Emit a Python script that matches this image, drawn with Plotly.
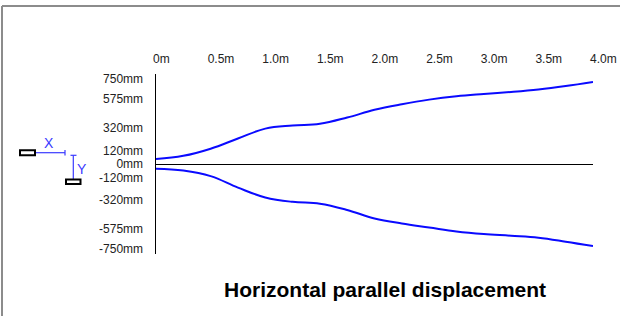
import plotly.graph_objects as go

# ---- data (metres, millimetres) ----
distance_m = [0, 0.25, 0.5, 0.75, 1.0, 1.25, 1.5, 1.75, 2.0, 2.25, 2.5, 2.75, 3.0, 3.25, 3.5, 3.75, 4.0]
upper_mm = [44, 72, 135, 225, 312, 340, 355, 410, 478, 527, 568, 598, 618, 636, 658, 688, 724]
lower_mm = [-41, -58, -107, -208, -295, -334, -350, -405, -480, -525, -560, -595, -618, -633, -650, -685, -724]

x_tickvals = [0, 0.5, 1.0, 1.5, 2.0, 2.5, 3.0, 3.5, 4.0]
x_ticktext = ["0m", "0.5m", "1.0m", "1.5m", "2.0m", "2.5m", "3.0m", "3.5m", "4.0m"]
y_tickvals = [750, 575, 320, 120, 0, -120, -320, -575, -750]
y_ticktext = ["750mm", "575mm", "320mm", "120mm", "0mm", "-120mm", "-320mm", "-575mm", "-750mm"]

title_text = "Horizontal parallel displacement"

W, H = 620, 316
L, R, T, B = 156, 27, 74, 62
PW, PH = W - L - R, H - T - B


def px(x):
    return (x - L) / PW


def py(y):
    return (H - B - y) / PH


BLUE = "#0a0aff"
ICON_BLUE = "#3a3aff"

fig = go.Figure()
for ys in (upper_mm, lower_mm):
    fig.add_trace(go.Scatter(
        x=distance_m, y=ys, mode="lines",
        line=dict(color=BLUE, width=2, shape="spline", smoothing=1.1),
        hoverinfo="skip", showlegend=False,
    ))

shapes = []
# frame lines (left and top)
shapes.append(dict(type="line", xref="paper", yref="paper", x0=px(2), x1=px(620), y0=py(6), y1=py(6),
                   line=dict(color="#8c8c8c", width=2)))
shapes.append(dict(type="line", xref="paper", yref="paper", x0=px(2), x1=px(2), y0=py(6), y1=py(316),
                   line=dict(color="#8c8c8c", width=2)))
# icon: X arrow
shapes.append(dict(type="line", xref="paper", yref="paper", x0=px(35), x1=px(65), y0=py(152.7), y1=py(152.7),
                   line=dict(color=ICON_BLUE, width=1.2)))
shapes.append(dict(type="line", xref="paper", yref="paper", x0=px(65), x1=px(65), y0=py(150), y1=py(155.5),
                   line=dict(color=ICON_BLUE, width=1.2)))
# icon: Y arrow
shapes.append(dict(type="line", xref="paper", yref="paper", x0=px(73.3), x1=px(73.3), y0=py(155.3), y1=py(179),
                   line=dict(color=ICON_BLUE, width=1.2)))
shapes.append(dict(type="line", xref="paper", yref="paper", x0=px(70.5), x1=px(76.5), y0=py(155.3), y1=py(155.3),
                   line=dict(color=ICON_BLUE, width=1.2)))
# icon boxes
shapes.append(dict(type="rect", xref="paper", yref="paper", x0=px(20), x1=px(35), y0=py(150.3), y1=py(155.2),
                   line=dict(color="black", width=2), fillcolor="white"))
shapes.append(dict(type="rect", xref="paper", yref="paper", x0=px(66), x1=px(80.5), y0=py(179.5), y1=py(184),
                   line=dict(color="black", width=2), fillcolor="white"))

annotations = [
    dict(text="X", xref="paper", yref="paper", x=px(48.5), y=py(142.5), showarrow=False,
         font=dict(size=14, color=ICON_BLUE, family="Liberation Sans"), xanchor="center", yanchor="middle"),
    dict(text="Y", xref="paper", yref="paper", x=px(82), y=py(169), showarrow=False,
         font=dict(size=14, color=ICON_BLUE, family="Liberation Sans"), xanchor="center", yanchor="middle"),
    dict(text="<b>" + title_text + "</b>", xref="paper", yref="paper", x=px(385), y=py(289), showarrow=False,
         font=dict(size=21, color="black", family="Liberation Sans"), xanchor="center", yanchor="middle"),
]

fig.update_layout(
    width=W, height=H,
    margin=dict(l=L, r=R, t=T, b=B, pad=0, autoexpand=False),
    paper_bgcolor="white", plot_bgcolor="white",
    font=dict(family="Liberation Sans", size=12, color="#222222"),
    shapes=shapes, annotations=annotations,
    showlegend=False,
)
fig.update_xaxes(
    range=[0, 4], side="top", tickvals=x_tickvals, ticktext=x_ticktext,
    showgrid=False, zeroline=False, showline=False, ticks="", automargin=False,
    ticklabelposition="outside right", ticklabelshift=-3, ticklabelstandoff=8,
    tickfont=dict(size=12, color="#222222"),
)
fig.update_yaxes(
    range=[-794, 794], tickvals=y_tickvals, ticktext=y_ticktext,
    showgrid=False, zeroline=True, zerolinecolor="black", zerolinewidth=1,
    showline=True, linecolor="black", linewidth=1.5, ticks="", ticklabelstandoff=9, automargin=False,
    tickfont=dict(size=12, color="#222222"),
)

fig.write_html("out.html", config={"displayModeBar": False, "staticPlot": True},
               post_script="document.body.style.margin='0';document.body.style.overflow='hidden';")
